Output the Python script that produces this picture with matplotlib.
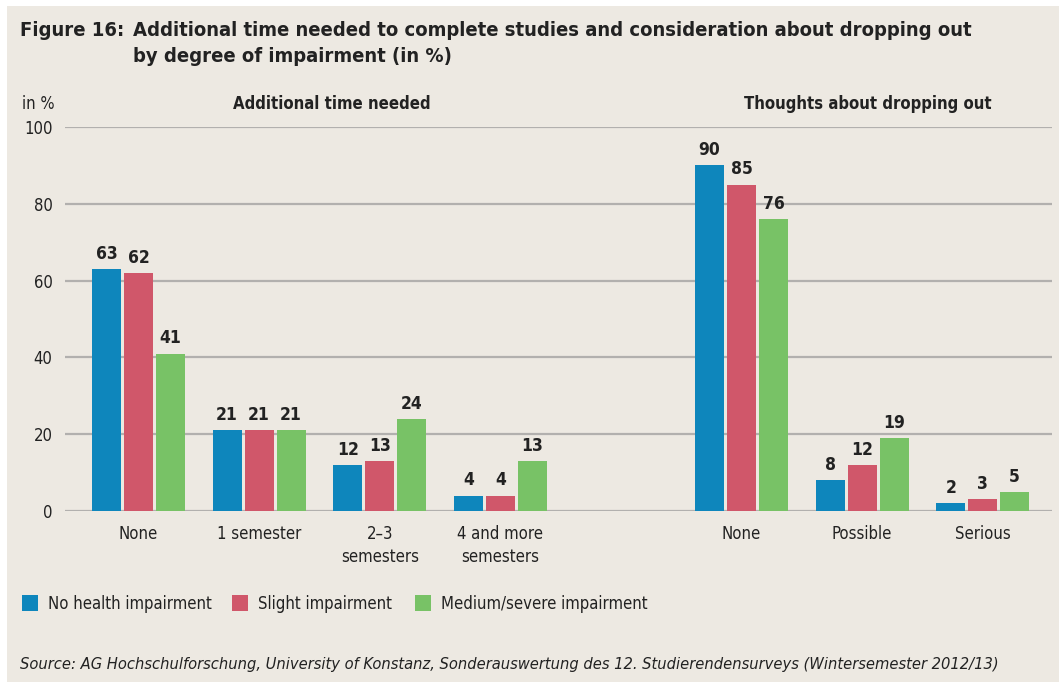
import matplotlib
matplotlib.use("Agg")
import matplotlib.pyplot as plt
from matplotlib import font_manager
from matplotlib.patches import Rectangle
import numpy as np

# ---------------- data ----------------
categories = ["None", "1 semester", "2\u20133\nsemesters", "4 and more\nsemesters",
              "None", "Possible", "Serious"]
cat_pos = [0, 1, 2, 3, 5, 6, 7]
series_names = ["No health impairment", "Slight impairment", "Medium/severe impairment"]
no_impairment = [63, 21, 12, 4, 90, 8, 2]
slight_impairment = [62, 21, 13, 4, 85, 12, 3]
severe_impairment = [41, 21, 24, 13, 76, 19, 5]
yticks = [0, 20, 40, 60, 80, 100]
section_titles = ["Additional time needed", "Thoughts about dropping out"]

colors = ["#0E86BC", "#D0576A", "#78C266"]
bg = "#EDE9E2"
grid_c = "#B2B0AE"
text_c = "#222222"

# ---------------- fonts ----------------
names = {f.name for f in font_manager.fontManager.ttflist}
if "Liberation Sans Narrow" in names:
    FAM = ["Liberation Sans Narrow", "DejaVu Sans"]
    STRETCH = "normal"
else:
    FAM = ["DejaVu Sans"]
    STRETCH = "condensed"
plt.rcParams["font.family"] = FAM

W, H = 1059, 682
fig = plt.figure(figsize=(W / 100, H / 100), dpi=100, facecolor="white")
fig.patches.append(Rectangle((7 / W, -0.01), 1.02, 1.01 - 6 / H, transform=fig.transFigure,
                             facecolor=bg, edgecolor="none", zorder=-10))


def px(x, y):
    return x / W, 1 - y / H


ax = fig.add_axes([65 / W, 1 - 511 / H, (1052 - 65) / W, (511 - 127) / H])
ax.set_facecolor("none")
unit = 120.6
ax.set_xlim((65 - 138.5) / unit, (1052 - 138.5) / unit)
ax.set_ylim(0, 100)

bw = 29 / unit
step = 32 / unit
all_series = [no_impairment, slight_impairment, severe_impairment]
pos = np.array(cat_pos, dtype=float)
for i, (vals, c) in enumerate(zip(all_series, colors)):
    xs = pos + (i - 1) * step
    ax.bar(xs, vals, width=bw, color=c, zorder=3, label=series_names[i])
    for x, v in zip(xs, vals):
        ax.text(x, v + 1.6, f"{v}", ha="center", va="bottom", fontsize=12.5,
                fontweight="bold", color=text_c, fontstretch=STRETCH, clip_on=False)

for t in yticks:
    ax.axhline(t, color=grid_c, lw=1.6, zorder=1)

for s in ax.spines.values():
    s.set_visible(False)
ax.set_yticks(yticks)
ax.set_yticklabels([str(t) for t in yticks], fontsize=12, color=text_c, fontstretch=STRETCH)
ax.tick_params(axis="y", length=0, pad=9)
ax.set_xticks(cat_pos)
ax.set_xticklabels(categories, fontsize=12, color=text_c, fontstretch=STRETCH, linespacing=1.4)
ax.tick_params(axis="x", length=0, pad=10)

# section headers
fig.text(*px(332, 104), section_titles[0], ha="center", va="center", fontsize=12,
         fontweight="bold", color=text_c, fontstretch=STRETCH)
fig.text(*px(868, 104), section_titles[1], ha="center", va="center", fontsize=12,
         fontweight="bold", color=text_c, fontstretch=STRETCH)
fig.text(*px(22, 104), "in %", ha="left", va="center", fontsize=12, color=text_c,
         fontstretch=STRETCH)

# title
fig.text(*px(20, 30), "Figure 16:", ha="left", va="center", fontsize=14.5, fontweight="bold",
         color=text_c, fontstretch=STRETCH)
fig.text(*px(133, 30), "Additional time needed to complete studies and consideration about dropping out",
         ha="left", va="center", fontsize=14.5, fontweight="bold", color=text_c, fontstretch=STRETCH)
fig.text(*px(133, 57), "by degree of impairment (in %)", ha="left", va="center", fontsize=14.5,
         fontweight="bold", color=text_c, fontstretch=STRETCH)

# legend (manual)
leg_x = [22, 232, 415]
for x0, c, name in zip(leg_x, colors, series_names):
    fig.patches.append(Rectangle(((x0) / W, 1 - 611 / H), 16 / W, 16 / H,
                                 transform=fig.transFigure, facecolor=c, edgecolor="none"))
    fig.text(*px(x0 + 26, 604), name, ha="left", va="center", fontsize=12, color=text_c,
             fontstretch=STRETCH)

# source
fig.text(*px(20, 665),
         "Source: AG Hochschulforschung, University of Konstanz, Sonderauswertung des 12. Studierendensurveys (Wintersemester 2012/13)",
         ha="left", va="center", fontsize=11.8, style="italic", color=text_c, fontstretch=STRETCH)

fig.savefig("out.png", dpi=100, facecolor="white")
